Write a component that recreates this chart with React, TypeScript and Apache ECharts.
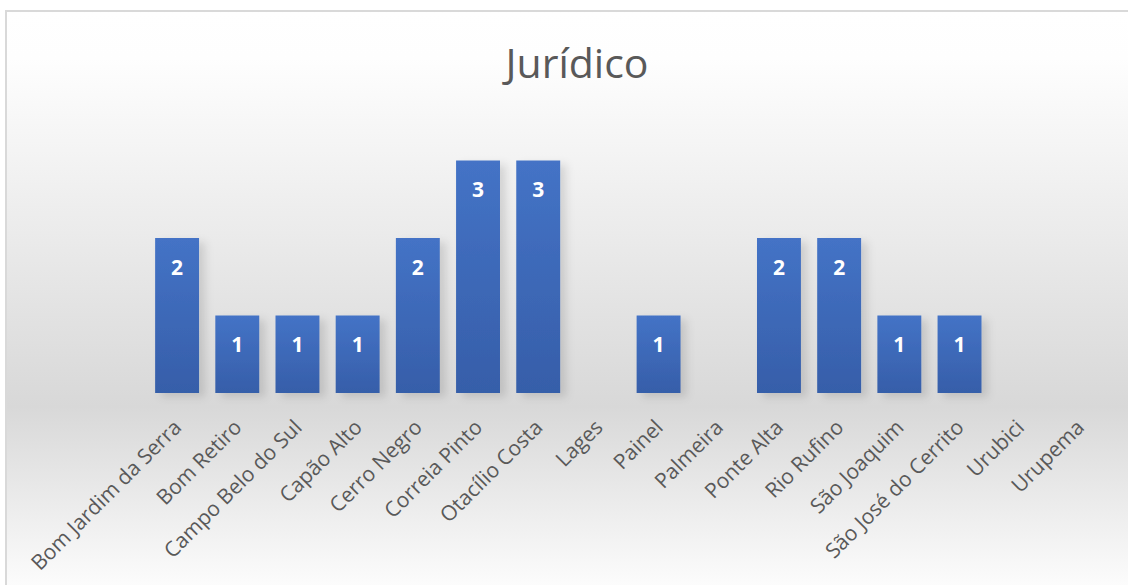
import React, { useEffect, useRef } from "react";
import * as echarts from "echarts";

const categories = [
  "Bom Jardim da Serra",
  "Bom Retiro",
  "Campo Belo do Sul",
  "Capão Alto",
  "Cerro Negro",
  "Correia Pinto",
  "Otacílio Costa",
  "Lages",
  "Painel",
  "Palmeira",
  "Ponte Alta",
  "Rio Rufino",
  "São Joaquim",
  "São José do Cerrito",
  "Urubici",
  "Urupema",
];
const values: (number | null)[] = [2, 1, 1, 1, 2, 3, 3, null, 1, null, 2, 2, 1, 1, null, null];
const title = "Jurídico";

export default function App() {
  const ref = useRef<HTMLDivElement>(null);
  useEffect(() => {
    if (!ref.current) return;
    const chart = echarts.init(ref.current, null, { renderer: "svg" });
    const font = "'Open Sans', 'Liberation Sans', sans-serif";
    chart.setOption({
      animation: false,
      backgroundColor: "#ffffff",
      graphic: [
        {
          type: "rect",
          z: -10,
          silent: true,
          shape: { x: 6, y: 11, width: 1140, height: 590 },
          style: {
            stroke: "#d9d9d9",
            lineWidth: 2,
            fill: new echarts.graphic.LinearGradient(0, 0, 0, 1, [
              { offset: 0, color: "#ffffff" },
              { offset: 0.08, color: "#fefefe" },
              { offset: 0.67, color: "#d8d8d8" },
              { offset: 1, color: "#ffffff" },
            ]),
          },
        },
      ],
      title: {
        text: title,
        left: 572,
        top: 36,
        textAlign: "center",
        textStyle: {
          fontFamily: font,
          fontSize: 41,
          fontWeight: "normal",
          color: "#595959",
        },
      },
      grid: { left: 147, right: 18, top: 83, bottom: 192, containLabel: false },
      xAxis: {
        type: "category",
        data: categories,
        axisLine: { show: false },
        axisTick: { show: false },
        axisLabel: {
          interval: 0,
          rotate: 45,
          margin: 30,
          fontFamily: font,
          fontSize: 21,
          color: "#595959",
        },
      },
      yAxis: {
        type: "value",
        min: 0,
        max: 4,
        interval: 1,
        show: false,
        splitLine: { show: false },
      },
      series: [
        {
          type: "bar",
          data: values,
          barCategoryGap: "27%",
          itemStyle: {
            color: new echarts.graphic.LinearGradient(0, 0, 0, 1, [
              { offset: 0, color: "#4473c6" },
              { offset: 1, color: "#365ea9" },
            ]),
            shadowColor: "rgba(0,0,0,0.12)",
            shadowBlur: 8,
            shadowOffsetX: 6,
            shadowOffsetY: 4,
          },
          label: {
            show: true,
            position: "insideTop",
            distance: 18,
            color: "#ffffff",
            fontFamily: font,
            fontWeight: "bold",
            fontSize: 21,
          },
        },
      ],
    });
    return () => chart.dispose();
  }, []);
  return (
    <div
      ref={ref}
      style={{ position: "fixed", left: 0, top: 0, width: 1128, height: 585 }}
    />
  );
}
